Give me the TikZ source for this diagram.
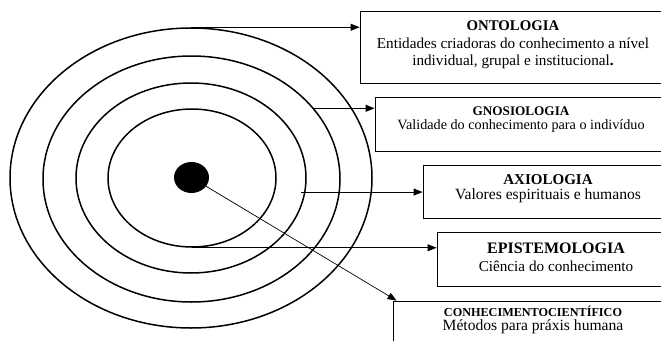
\documentclass[tikz,border=0pt]{standalone}
\usepackage{fontspec}
\setmainfont{Liberation Serif}
\usepackage{tikz}
\usetikzlibrary{positioning,calc}
\usetikzlibrary{arrows.meta,shapes.geometric}
\tikzstyle{anel} = [ellipse,draw=black,line width=1.5pt,inner sep=0pt]
\tikzstyle{caixa} = [rectangle,draw=black,line width=0.9pt,inner sep=0pt]
\tikzstyle{texto} = [align=center,inner sep=0pt]
\tikzstyle{seta} = [-{Triangle[length=9pt,width=7pt]},line width=0.9pt]
\newcommand{\titulo}[2]{{\fontsize{#1}{#1}\selectfont\bfseries #2}}

\begin{document}
\begin{tikzpicture}[x=1pt,y=-1pt]
        \useasboundingbox (0,0) rectangle (661,340);
        \clip (0,0) rectangle (661,340);
        % aneis concentricos
        \node[anel,minimum width=362pt,minimum height=300pt] (e1) at (191,178) {};
        \node[anel,minimum width=297pt,minimum height=246pt] (e2) at (191.5,179) {};
        \node[anel,minimum width=230pt,minimum height=190pt] (e3) at (191,178) {};
        \node[anel,minimum width=168pt,minimum height=138pt] (e4) at (192,178) {};
        \node[ellipse,fill=black,minimum width=35pt,minimum height=31pt,inner sep=0pt] (nucleo) at (191.5,177.5) {};
        % caixas
        \node[caixa,minimum width=306pt,minimum height=72pt] (onto) at (513,47) {};
        \node[texto,font=\fontsize{15.2}{17.5}\selectfont] (ontotxt) at (513,45)
        {\titulo{14.8}{ONTOLOGIA}\\
         Entidades criadoras do conhecimento a nível\\
         individual, grupal e institucional\textbf{.}};
        \node[caixa,minimum width=292pt,minimum height=54pt] (gnos) at (521,124) {};
        \node[texto,font=\fontsize{14.2}{14.5}\selectfont] (gnostxt) at (521,119.5)
        {\titulo{13.2}{GNOSIOLOGIA}\\
         Validade do conhecimento para o indivíduo};
        \node[caixa,minimum width=250pt,minimum height=53pt] (axio) at (548,191.5) {};
        \node[texto,font=\fontsize{15.6}{15.5}\selectfont] (axiotxt) at (548,188.5)
        {\titulo{15}{AXIOLOGIA}\\
         Valores espirituais e humanos};
        \node[caixa,minimum width=238pt,minimum height=54pt] (epis) at (556,259) {};
        \node[texto,font=\fontsize{15.2}{18}\selectfont] (epistxt) at (556,257)
        {\titulo{16}{EPISTEMOLOGIA}\\
         Ciência do conhecimento};
        \node[caixa,minimum width=280pt,minimum height=44pt] (conh) at (533,323) {};
        \node[texto,font=\fontsize{15.6}{14.5}\selectfont] (conhtxt) at (533,320)
        {\titulo{12.2}{CONHECIMENTOCIENTÍFICO}\\
         Métodos para práxis humana};
        % setas
        \coordinate (p3) at ($(e3.-7)+(-4,0)$);
        \draw[seta] (e1.north) -- (e1.north -| onto.west);
        \draw[seta] (e2.30) -- (e2.30 -| gnos.west);
        \draw[seta] (p3) -- (p3 -| axio.west);
        \draw[seta] (e4.south) -- (e4.south -| epis.west);
        \draw[seta,line width=0.7pt] (nucleo) -- ($(conh.north west)+(4,0)$);
\end{tikzpicture}
\end{document}
